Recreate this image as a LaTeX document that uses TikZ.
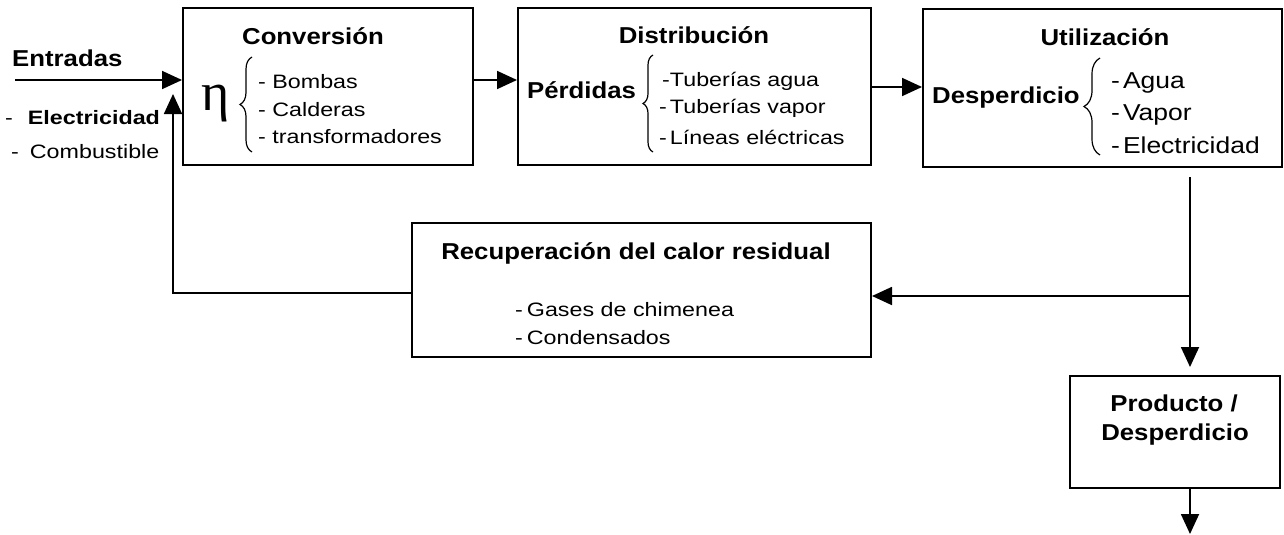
\documentclass[tikz,border=0pt]{standalone}
\usepackage{fontspec}
\setmainfont{Liberation Sans}
\newfontfamily\myTfont[FakeStretch=1.12]{Liberation Sans}
\newfontfamily\myBfont[FakeStretch=1.2]{Liberation Sans}
\newfontfamily\myUfont[FakeStretch=1.15]{Liberation Sans}
\newfontfamily\myEtafont{Liberation Serif}
\usetikzlibrary{arrows.meta,decorations.pathreplacing}
\begin{document}
\begin{tikzpicture}[x=1pt,y=-1pt,
  box/.style={draw,line width=2pt,inner sep=0pt},
  ttl/.style={font=\myTfont\bfseries\fontsize{23}{27}\selectfont,inner sep=0pt},
  bdy/.style={font=\myBfont\fontsize{19.4}{23}\selectfont,inner sep=0pt,anchor=west},
  utl/.style={font=\myUfont\fontsize{23}{27}\selectfont,inner sep=0pt,anchor=west},
  conn/.style={line width=1.8pt},
  arr/.style={conn,-{Triangle[length=20pt,width=18pt]}},
  brc/.style={decorate,decoration={brace,amplitude=#1},line width=1.2pt}]
\useasboundingbox (0,0) rectangle (1284,535);

% boxes
\node[box,minimum width=290pt,minimum height=157pt] (conv) at (328,86.5) {};
\node[box,minimum width=353pt,minimum height=157pt] (dist) at (694.5,86.5) {};
\node[box,minimum width=359pt,minimum height=158pt] (util) at (1102.5,88) {};
\node[box,minimum width=459pt,minimum height=134pt] (rec) at (641.5,290) {};
\node[box,minimum width=210pt,minimum height=112pt] (prod) at (1175,432) {};

% inputs
\node[ttl,anchor=west] (entr) at (12,58) {Entradas};
\node[bdy] (elec) at (5,118) {-\hspace{15pt}\textbf{Electricidad}};
\node[bdy] (comb) at (11,152) {-\hspace{11pt}Combustible};

% conversion
\node[ttl] (convt) at (313,36) {Conversión};
\node[font=\myEtafont\fontsize{54}{54}\selectfont,inner sep=0pt] (eta) at (216,104) {η};
\draw[brc=12pt] (252,152) -- (252,57);
\node[bdy] (c1) at (258,82) {- Bombas};
\node[bdy] (c2) at (258,110) {- Calderas};
\node[bdy] (c3) at (258,137) {- transformadores};

% distribution
\node[ttl] (distt) at (694,35) {Distribución};
\node[ttl,anchor=west] (perd) at (527,90) {Pérdidas};
\draw[brc=10pt] (653,152) -- (653,55);
\node[bdy] (d1) at (662,81) {-Tuberías agua};
\node[bdy] (d2) at (659,108) {-\hspace{3pt}Tuberías vapor};
\node[bdy] (d3) at (659,137) {-\hspace{3pt}Líneas eléctricas};

% utilization
\node[ttl] (utilt) at (1105,37) {Utilización};
\node[ttl,anchor=west] (desp) at (932,98) {Desperdicio};
\draw[brc=16pt] (1100,155) -- (1100,58);
\node[utl] (u1) at (1111,83) {-\hspace{3pt}Agua};
\node[utl] (u2) at (1111,115) {-\hspace{3pt}Vapor};
\node[utl] (u3) at (1111,145) {-\hspace{3pt}Electricidad};

% recovery
\node[ttl] (rect) at (636,253) {Recuperación del calor residual};
\node[bdy] (r1) at (515,310) {-\hspace{4pt}Gases de chimenea};
\node[bdy] (r2) at (515,338) {-\hspace{4pt}Condensados};

% product
\node[ttl] (p1) at (1174,403) {Producto /};
\node[ttl] (p2) at (1175,435) {Desperdicio};

% connectors
\coordinate (ein) at (15,80);
\coordinate (y80) at (0,80);
\coordinate (y87) at (0,87);
\coordinate (dx) at (1190,0);
\coordinate (br) at (1190,296);
\coordinate (fb) at (173,293);
\coordinate (fbt) at (173,94);
\coordinate (endp) at (1190,534);

\draw[arr] (ein) -- (ein -| conv.west);
\draw[arr] (conv.east |- y80) -- (dist.west |- y80);
\draw[arr] (dist.east |- y87) -- (util.west |- y87);
\draw[arr,shorten <=9pt,shorten >=8pt] (util.south -| dx) -- (prod.north -| dx);
\draw[arr] (br) -- (rec.east |- br);
\draw[arr] (rec.west |- fb) -- (fb) -- (fbt);
\draw[arr] (prod.south -| endp) -- (endp);
\end{tikzpicture}
\end{document}
